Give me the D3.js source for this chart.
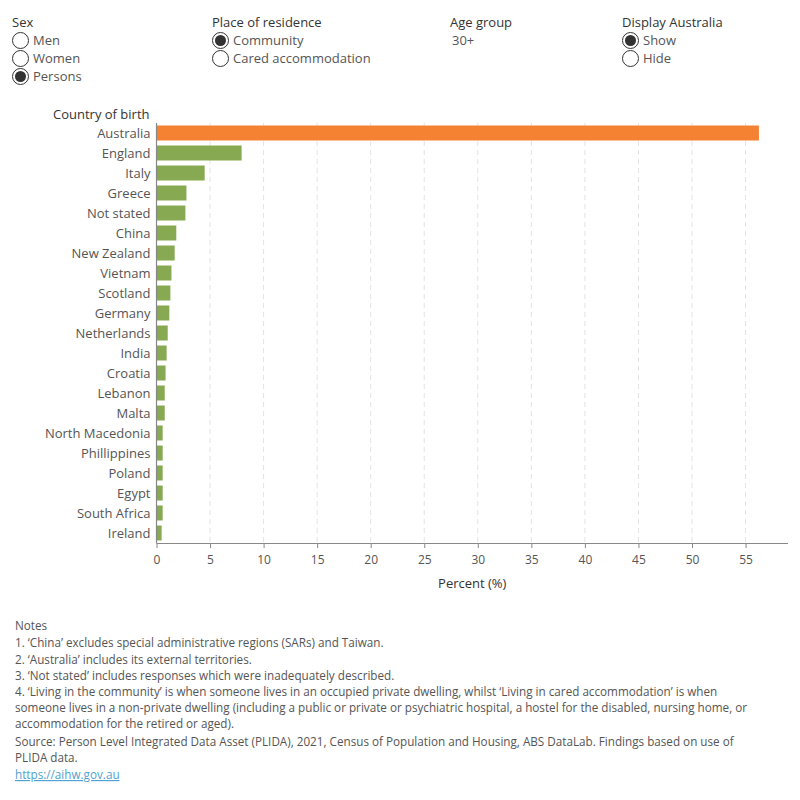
<!DOCTYPE html>
<html>
<head>
<meta charset="utf-8">
<script src="https://cdn.jsdelivr.net/npm/d3@7"></script>
<style>
  body { margin: 0; background: #fff; }
  svg { font-family: "Open Sans", "Noto Sans", sans-serif; }
</style>
</head>
<body>
<svg id="chart" width="800" height="800"></svg>
<script>
const countries = ["Australia","England","Italy","Greece","Not stated","China","New Zealand","Vietnam","Scotland","Germany","Netherlands","India","Croatia","Lebanon","Malta","North Macedonia","Phillippines","Poland","Egypt","South Africa","Ireland"];
const percents = [56.2,7.9,4.45,2.75,2.65,1.8,1.65,1.35,1.25,1.15,1.0,0.9,0.8,0.72,0.72,0.53,0.53,0.53,0.53,0.53,0.43];
const xTicks = [0,5,10,15,20,25,30,35,40,45,50,55];
const xMax = 59;

const sexOptions = ["Men","Women","Persons"];
const residenceOptions = ["Community","Cared accommodation"];
const displayOptions = ["Show","Hide"];
const notes = [
  "Notes",
  "1. \u2018China\u2019 excludes special administrative regions (SARs) and Taiwan.",
  "2. \u2018Australia\u2019 includes its external territories.",
  "3. \u2018Not stated\u2019 includes responses which were inadequately described.",
  "4. \u2018Living in the community\u2019 is when someone lives in an occupied private dwelling, whilst \u2018Living in cared accommodation\u2019 is when",
  "someone lives in a non-private dwelling (including a public or private or psychiatric hospital, a hostel for the disabled, nursing home, or",
  "accommodation for the retired or aged).",
  "Source: Person Level Integrated Data Asset (PLIDA), 2021, Census of Population and Housing, ABS DataLab. Findings based on use of",
  "PLIDA data."
];

const svg = d3.select("#chart");
const textCol = "#555555";
const headCol = "#333333";

// Controls
function radioGroup(x0, y0, title, options, selected) {
  const g = svg.append("g");
  g.append("text").attr("x", x0).attr("y", y0).attr("fill", headCol)
    .attr("font-size", 13).text(title);
  options.forEach((o, i) => {
    const cy = y0 + 13.5 + i * 18;
    g.append("circle").attr("cx", x0 + 8.5).attr("cy", cy).attr("r", 8)
      .attr("fill", "#fff").attr("stroke", "#333").attr("stroke-width", 1);
    if (o === selected) {
      g.append("circle").attr("cx", x0 + 8.5).attr("cy", cy).attr("r", 5.5).attr("fill", "#333");
    }
    g.append("text").attr("x", x0 + 21).attr("y", cy + 4.5).attr("fill", textCol)
      .attr("font-size", 13).text(o);
  });
}
radioGroup(12, 27, "Sex", sexOptions, "Persons");
radioGroup(212, 27, "Place of residence", residenceOptions, "Community");
radioGroup(622, 27, "Display Australia", displayOptions, "Show");
svg.append("text").attr("x", 450).attr("y", 27).attr("fill", headCol).attr("font-size", 13).text("Age group");
svg.append("text").attr("x", 452).attr("y", 45).attr("fill", textCol).attr("font-size", 13).text("30+");

// Chart
const pLeft = 156.5, pRight = 788, pTop = 123, pBottom = 543;
const x = d3.scaleLinear().domain([0, xMax]).range([pLeft, pLeft + xMax * 10.71]);
const y = d3.scaleBand().domain(countries).range([pTop, pBottom]).paddingInner(0.25).paddingOuter(0.125);

// gridlines
svg.append("g").selectAll("line").data(xTicks.filter(d => d > 0)).join("line")
  .attr("x1", d => x(d)).attr("x2", d => x(d)).attr("y1", pTop).attr("y2", pBottom)
  .attr("stroke", "#e3e3e3").attr("stroke-dasharray", "5,4");

svg.append("g").selectAll("rect").data(countries).join("rect")
  .attr("x", x(0) + 0.5).attr("y", d => y(d))
  .attr("width", (d, i) => x(percents[i]) - x(0))
  .attr("height", y.bandwidth())
  .attr("fill", d => d === "Australia" ? "#F58233" : "#87A951");

// y axis labels
svg.append("g").selectAll("text").data(countries).join("text")
  .attr("x", 150.5).attr("y", d => y(d) + y.bandwidth() / 2 + 4.5)
  .attr("text-anchor", "end").attr("fill", textCol).attr("font-size", 13)
  .text(d => d);
svg.append("text").attr("x", 53).attr("y", 119).attr("fill", headCol)
  .attr("font-size", 13).text("Country of birth");

// y axis line
svg.append("line").attr("x1", pLeft).attr("x2", pLeft).attr("y1", pTop).attr("y2", pBottom)
  .attr("stroke", "#888").attr("stroke-width", 1.2);

const xAxis = d3.axisBottom(x).tickValues(xTicks).tickSize(5).tickSizeOuter(0).tickFormat(d3.format("d"));
const gx = svg.append("g").attr("transform", `translate(0,${pBottom})`).call(xAxis);
gx.select(".domain").attr("stroke", "#888").attr("d", `M${pLeft},0.5H${pRight}`);
gx.selectAll(".tick line").attr("stroke", "#888");
gx.selectAll(".tick text").attr("fill", textCol).attr("font-size", 12)
  .attr("font-family", "Open Sans, sans-serif").attr("dy", "1.05em");
svg.append("text").attr("x", (pLeft + pRight) / 2).attr("y", 588).attr("text-anchor", "middle")
  .attr("fill", headCol).attr("font-size", 13).text("Percent (%)");

// notes
const lineYs = [630, 647, 664, 680, 696, 712, 728, 746, 762];
notes.forEach((t, i) => {
  svg.append("text").attr("x", 15).attr("y", lineYs[i]).attr("fill", textCol)
    .attr("font-size", 11.7).text(t);
});
svg.append("text").attr("x", 15).attr("y", 779).attr("fill", "#4fa3d1")
  .attr("font-size", 11.7).attr("text-decoration", "underline").text("https://aihw.gov.au");
</script>
</body>
</html>
